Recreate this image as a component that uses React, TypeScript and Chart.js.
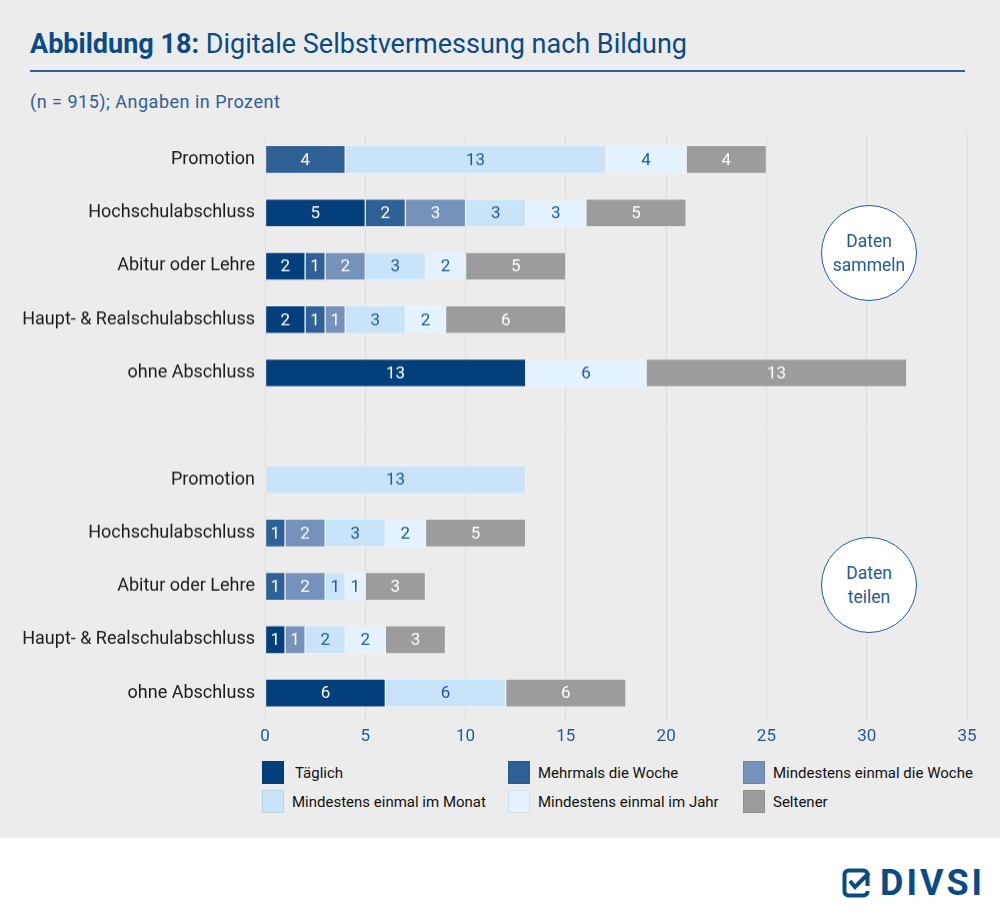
import { useEffect, useRef } from 'react';
import { Chart } from 'chart.js/auto';

const BLUE = '#1f5a96';
const NAVY = '#0a4a85';
const FONT = 'Roboto, "Noto Sans", sans-serif';

const categories = [
  'Promotion', 'Hochschulabschluss', 'Abitur oder Lehre', 'Haupt- & Realschulabschluss', 'ohne Abschluss',
  '',
  'Promotion', 'Hochschulabschluss', 'Abitur oder Lehre', 'Haupt- & Realschulabschluss', 'ohne Abschluss',
];

const seriesNames = ['Täglich', 'Mehrmals die Woche', 'Mindestens einmal die Woche', 'Mindestens einmal im Monat', 'Mindestens einmal im Jahr', 'Seltener'];
const seriesColors = ['#033f7a', '#2f6196', '#7592bb', '#c9e4f8', '#e3f2fd', '#9c9c9d'];
const labelColors = ['#ffffff', '#ffffff', '#ffffff', BLUE, BLUE, '#ffffff'];

const taeglich = [0, 5, 2, 2, 13, null, 0, 0, 0, 1, 6];
const mehrmals = [4, 2, 1, 1, 0, null, 0, 1, 1, 0, 0];
const mindWoche = [0, 3, 2, 1, 0, null, 0, 2, 2, 1, 0];
const mindMonat = [13, 3, 3, 3, 0, null, 13, 3, 1, 2, 6];
const mindJahr = [4, 3, 2, 2, 6, null, 0, 2, 1, 2, 0];
const seltener = [4, 5, 5, 6, 13, null, 0, 5, 3, 3, 6];

const seriesValues = [taeglich, mehrmals, mindWoche, mindMonat, mindJahr, seltener];
const xTicks = [0, 5, 10, 15, 20, 25, 30, 35];

const segmentLabels = {
  id: 'segmentLabels',
  afterDatasetsDraw(chart: any) {
    const ctx = chart.ctx;
    ctx.save();
    ctx.font = `17px ${FONT}`;
    ctx.textAlign = 'center';
    ctx.textBaseline = 'middle';
    chart.data.datasets.forEach((ds: any, di: number) => {
      chart.getDatasetMeta(di).data.forEach((el: any, i: number) => {
        const v = ds.data[i];
        if (!v) return;
        const p = el.getCenterPoint();
        ctx.fillStyle = labelColors[di];
        ctx.fillText(String(v), p.x, p.y + 1);
      });
    });
    ctx.restore();
  },
};

function Circle({ top, lines }: { top: number; lines: string[] }) {
  return (
    <div style={{
      position: 'absolute', left: 821, top, width: 96, height: 96, boxSizing: 'border-box', borderRadius: '50%',
      border: `1.5px solid ${BLUE}`, background: '#fff', color: BLUE, fontSize: 17.5, lineHeight: '24px',
      display: 'flex', flexDirection: 'column', alignItems: 'center', justifyContent: 'center',
    }}>
      {lines.map(l => <div key={l}>{l}</div>)}
    </div>
  );
}

export default function App() {
  const ref = useRef<HTMLCanvasElement>(null);
  const ci = useRef<Chart | null>(null);

  useEffect(() => {
    document.body.style.margin = '0';
    if (!ref.current) return;
    ci.current?.destroy();
    ci.current = new Chart(ref.current, {
      type: 'bar',
      data: {
        labels: categories,
        datasets: seriesValues.map((vals, i) => ({
          label: seriesNames[i], data: vals, backgroundColor: seriesColors[i],
          borderColor: 'rgba(255,255,255,0.3)', borderWidth: 1, borderSkipped: false, barThickness: 28,
        })),
      },
      options: {
        indexAxis: 'y', responsive: true, maintainAspectRatio: false, animation: false,
        layout: { padding: { top: 12.4, right: 33, bottom: 0.8, left: 0 } },
        plugins: { legend: { display: false }, tooltip: { enabled: false } },
        scales: {
          x: {
            stacked: true, min: 0, max: 35,
            afterFit: (s: any) => { s.height = 30; },
            afterBuildTicks: (s: any) => { s.ticks = xTicks.map(v => ({ value: v })); },
            grid: { color: '#dedede', drawTicks: false }, border: { display: false },
            ticks: { color: BLUE, padding: 7, font: { family: FONT, size: 17 } },
          },
          y: {
            stacked: true,
            afterFit: (s: any) => { s.width = 265; },
            grid: { display: false, drawTicks: false }, border: { display: false },
            ticks: { color: '#1a1a1a', padding: 10, autoSkip: false, font: { family: FONT, size: 18 } },
          },
        },
      },
      plugins: [segmentLabels],
    });
    return () => { ci.current?.destroy(); ci.current = null; };
  }, []);

  const legendCols = [262, 508, 743];
  const legendRows = [761, 790];

  return (
    <div style={{ position: 'relative', width: 1000, height: 921, background: '#fff', fontFamily: FONT, overflow: 'hidden' }}>
      <div style={{ position: 'absolute', left: 0, top: 0, width: 1000, height: 838, background: '#ececec' }} />
      <div style={{ position: 'absolute', left: 30, top: 28, fontSize: 27, color: NAVY, whiteSpace: 'nowrap' }}>
        <b>Abbildung 18:</b> Digitale Selbstvermessung nach Bildung
      </div>
      <div style={{ position: 'absolute', left: 30, top: 70, width: 935, height: 2, background: '#2c5f95' }} />
      <div style={{ position: 'absolute', left: 30, top: 91, fontSize: 18, letterSpacing: 0.5, color: '#2f6096', whiteSpace: 'nowrap' }}>(n = 915); Angaben in Prozent</div>

      <div style={{ position: 'absolute', left: 0, top: 112.4, width: 1000, height: 637.6 }}>
        <canvas ref={ref} />
      </div>

      <Circle top={205} lines={['Daten', 'sammeln']} />
      <Circle top={537} lines={['Daten', 'teilen']} />

      {seriesNames.map((name, i) => (
        <div key={name} style={{ position: 'absolute', left: legendCols[i % 3], top: legendRows[Math.floor(i / 3)], display: 'flex', alignItems: 'center', fontSize: 15, color: '#111', whiteSpace: 'nowrap' }}>
          <div style={{ width: 20, height: 21, background: seriesColors[i], border: '1px solid rgba(0,0,0,0.08)', marginRight: i === 0 ? 11 : 8 }} />
          {name}
        </div>
      ))}

      <div style={{ position: 'absolute', left: 842, top: 865, display: 'flex', alignItems: 'center', color: NAVY }}>
        <svg width="30" height="30" viewBox="0 0 30 30" style={{ marginRight: 8 }}>
          <rect x="2.5" y="2.5" width="23" height="25" rx="4" fill="none" stroke={NAVY} strokeWidth="4" />
          <path d="M8 13 L13 19 L27 5" fill="none" stroke={NAVY} strokeWidth="4" />
          <rect x="22" y="18" width="8" height="5" fill="#fff" />
        </svg>
        <span style={{ fontSize: 36, fontWeight: 700, letterSpacing: 3, lineHeight: '36px' }}>DIVSI</span>
      </div>
    </div>
  );
}
